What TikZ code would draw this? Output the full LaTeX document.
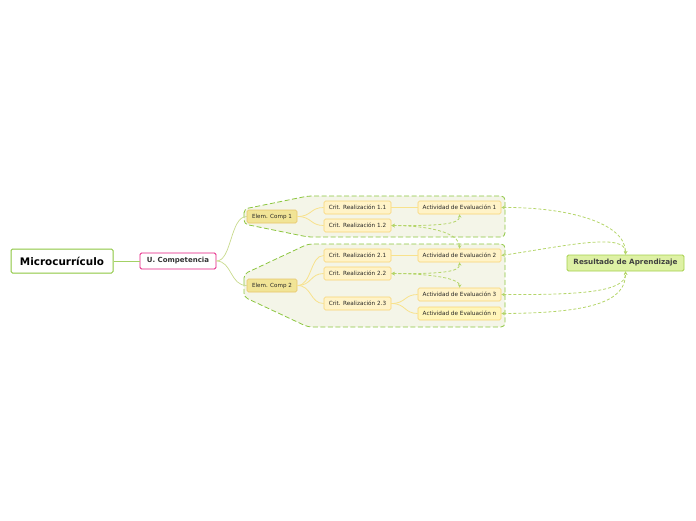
\documentclass[tikz,border=0pt]{standalone}
\usepackage{fontspec}
\setmainfont{DejaVu Sans}
\usetikzlibrary{arrows.meta}
\definecolor{mgreen}{RGB}{140,198,63}
\definecolor{lgreen}{RGB}{180,213,105}
\definecolor{magent}{RGB}{229,25,127}
\definecolor{elemfill}{RGB}{241,228,150}
\definecolor{elemdraw}{RGB}{232,198,105}
\definecolor{critfill}{RGB}{255,243,200}
\definecolor{critdraw}{RGB}{248,212,115}
\definecolor{actnfill}{RGB}{255,246,185}
\definecolor{bndfill}{RGB}{244,245,232}
\definecolor{resfill}{RGB}{222,241,165}
\definecolor{resdraw}{RGB}{165,208,75}
\definecolor{yline}{RGB}{248,226,140}
\definecolor{gline}{RGB}{200,218,140}
\tikzset{
  box/.style={rounded corners=1.5pt, inner sep=0pt, align=center},
  mainbox/.style={box, draw=mgreen, line width=1pt, fill=white, minimum width=102pt, minimum height=24pt, font=\fontsize{10.4}{11}\selectfont\bfseries},
  compbox/.style={box, draw=magent, line width=0.8pt, fill=white, minimum width=76pt, minimum height=16pt, font=\fontsize{7}{8}\selectfont\bfseries, text=black!80},
  elembox/.style={box, draw=elemdraw, line width=0.6pt, fill=elemfill, minimum width=50pt, minimum height=13pt, font=\fontsize{5.6}{6.5}\selectfont, text=black!85},
  critbox/.style={box, draw=critdraw, line width=0.6pt, fill=critfill, minimum width=67pt, minimum height=13pt, font=\fontsize{5.7}{6.5}\selectfont, text=black!85},
  actbox/.style={box, draw=critdraw, line width=0.6pt, fill=critfill, minimum width=83pt, minimum height=13pt, font=\fontsize{5.7}{6.5}\selectfont, text=black!85},
  resbox/.style={box, draw=resdraw, line width=0.8pt, fill=resfill, minimum width=117pt, minimum height=16pt, font=\fontsize{7.2}{8}\selectfont\bfseries, text=black!75},
  bnd/.style={draw=mgreen, line width=0.8pt, dash pattern=on 5pt off 2.5pt, fill=bndfill, rounded corners=4pt},
  yconn/.style={draw=yline, line width=0.8pt},
  gconn/.style={draw=gline, line width=0.7pt},
  rel/.style={draw=lgreen, line width=0.8pt, dash pattern=on 3pt off 2pt, {Stealth[length=3.5pt,width=3.5pt]}-{Stealth[length=3.5pt,width=3.5pt]}},
}
\begin{document}
\begin{tikzpicture}[x=1pt,y=-1pt]
\useasboundingbox (0,0) rectangle (696,520);
% boundaries
\path[bnd] (244,216) -- (244,209) -- (308,196) -- (505,196) -- (505,237) -- (308,237) -- (244,224) -- cycle;
\path[bnd] (244,285) -- (244,274) -- (308,244) -- (505,244) -- (505,327) -- (308,327) -- (244,297) -- cycle;
% nodes
\node[mainbox] (mc) at (62,261) {Microcurrículo};
\node[compbox] (uc) at (178,261) {U. Competencia};
\node[elembox] (e1) at (272,216.5) {Elem. Comp 1};
\node[elembox] (e2) at (272,285.5) {Elem. Comp 2};
\node[critbox] (c11) at (357.5,207.5) {Crit. Realización 1.1};
\node[critbox] (c12) at (357.5,225.5) {Crit. Realización 1.2};
\node[critbox] (c21) at (357.5,255.5) {Crit. Realización 2.1};
\node[critbox] (c22) at (357.5,273.5) {Crit. Realización 2.2};
\node[critbox] (c23) at (357.5,303.5) {Crit. Realización 2.3};
\node[actbox] (a1) at (459.5,207.5) {Actividad de Evaluación 1};
\node[actbox] (a2) at (459.5,255.5) {Actividad de Evaluación 2};
\node[actbox] (a3) at (459.5,294.5) {Actividad de Evaluación 3};
\node[actbox, fill=actnfill] (an) at (459.5,313.5) {Actividad de Evaluación n};
\node[resbox] (res) at (625.5,263) {Resultado de Aprendizaje};
% tree connectors
\draw[draw=mgreen!80, line width=0.8pt] (mc.east) -- (uc.west);
\draw[gconn] (uc.east) .. controls (232,261) and (230,216.5) .. (e1.west);
\draw[gconn] (uc.east) .. controls (232,261) and (230,285.5) .. (e2.west);
\draw[yconn] (e1.east) .. controls (312,216.5) and (310,207.5) .. (c11.west);
\draw[yconn] (e1.east) .. controls (312,216.5) and (310,225.5) .. (c12.west);
\draw[yconn] (e2.east) .. controls (312,285.5) and (310,255.5) .. (c21.west);
\draw[yconn] (e2.east) .. controls (312,285.5) and (310,273.5) .. (c22.west);
\draw[yconn] (e2.east) .. controls (312,285.5) and (310,303.5) .. (c23.west);
\draw[yconn] (c11.east) -- (a1.west);
\draw[yconn] (c21.east) -- (a2.west);
\draw[yconn] (c23.east) .. controls (406,303.5) and (404,294.5) .. (a3.west);
\draw[yconn] (c23.east) .. controls (406,303.5) and (404,313.5) .. (an.west);
% relationships
\draw[rel] (c12.east) .. controls (440,226) and (460,224) .. (a1.south);
\draw[rel] (c12.east) .. controls (440,226) and (460,236) .. (a2.north);
\draw[rel] (c22.east) .. controls (440,274) and (460,272) .. (a2.south);
\draw[rel] (c22.east) .. controls (440,274) and (460,280) .. (a3.north);
\draw[rel] (a1.east) .. controls (565,207) and (626,222) .. (res.north);
\draw[rel] (a2.east) .. controls (565,246) and (626,232) .. (res.north);
\draw[rel] (a3.east) .. controls (580,295) and (626,292) .. (res.south);
\draw[rel] (an.east) .. controls (590,313) and (626,302) .. (res.south);
\end{tikzpicture}
\end{document}
